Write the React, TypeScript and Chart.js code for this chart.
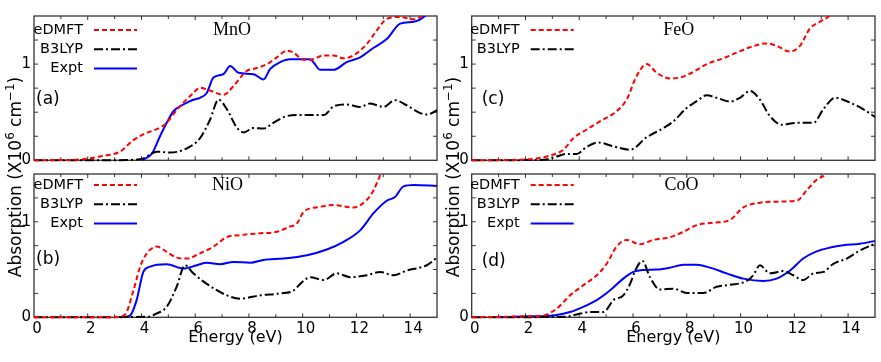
import React, { useEffect, useRef } from "react";
import { Chart, registerables } from "chart.js";

Chart.register(...registerables);

// ---------- data (energy in eV, absorption in 10^6 cm^-1) ----------
// MnO
const mnoEdmftE = [0, 1, 1.8, 2.45, 3.2, 3.7, 4.07, 4.69, 4.94, 5.19, 5.56, 5.9, 6.18, 6.6, 7.05, 7.42, 7.92, 8.17, 8.67, 9.04, 9.41, 9.66, 10.03, 10.28, 10.78, 11.15, 11.52, 11.89, 12.39, 12.76, 13.13, 13.63, 14.13, 14.5, 15];
const mnoEdmftV = [0, 0.003, 0.01, 0.04, 0.09, 0.21, 0.27, 0.34, 0.39, 0.48, 0.6, 0.69, 0.755, 0.72, 0.68, 0.77, 0.93, 0.95, 1.0, 1.07, 1.14, 1.12, 1.045, 1.045, 1.09, 1.09, 1.06, 1.09, 1.21, 1.35, 1.47, 1.49, 1.465, 1.52, 1.75];
const mnoB3lypE = [0, 2, 3.7, 4.07, 4.57, 5.07, 5.69, 6.18, 6.55, 6.87, 7.18, 7.55, 7.8, 8.17, 8.54, 8.91, 9.41, 9.91, 10.78, 11.15, 11.64, 12.14, 12.51, 13.01, 13.44, 13.88, 14.38, 14.62, 15];
const mnoB3lypV = [0, 0, 0.005, 0.02, 0.09, 0.08, 0.125, 0.23, 0.42, 0.63, 0.53, 0.34, 0.29, 0.335, 0.33, 0.39, 0.46, 0.47, 0.47, 0.56, 0.58, 0.555, 0.59, 0.555, 0.625, 0.57, 0.49, 0.475, 0.52];
const mnoExptE = [4.0, 4.38, 4.69, 4.94, 5.19, 5.56, 5.93, 6.18, 6.43, 6.68, 7.05, 7.3, 7.61, 8.17, 8.54, 8.79, 9.16, 9.53, 10.28, 10.4, 10.65, 11.15, 11.64, 12.14, 12.64, 13.13, 13.63, 14.13, 14.38, 14.62, 15];
const mnoExptV = [0, 0.066, 0.25, 0.39, 0.51, 0.58, 0.63, 0.65, 0.7, 0.86, 0.895, 0.98, 0.91, 0.895, 0.84, 0.95, 1.02, 1.05, 1.05, 1.02, 0.94, 0.94, 1.02, 1.07, 1.17, 1.26, 1.42, 1.44, 1.465, 1.52, 1.65];

// NiO
const nioEdmftE = [0, 3.0, 3.39, 3.7, 3.95, 4.2, 4.57, 4.94, 5.31, 5.69, 6.18, 6.68, 7.18, 7.67, 8.42, 9.04, 9.53, 9.78, 10.03, 10.65, 11.15, 11.89, 12.39, 12.64, 12.89, 13.2];
const nioEdmftV = [0, 0, 0.03, 0.28, 0.53, 0.67, 0.74, 0.685, 0.625, 0.615, 0.67, 0.74, 0.84, 0.86, 0.88, 0.895, 0.95, 0.98, 1.1, 1.157, 1.175, 1.15, 1.23, 1.33, 1.49, 1.65];
const nioB3lypE = [0, 4.2, 4.57, 4.94, 5.31, 5.62, 5.93, 6.43, 7.18, 7.67, 8.42, 9.16, 9.66, 9.91, 10.28, 10.78, 11.27, 11.77, 12.39, 12.89, 13.38, 13.88, 14.62, 15];
const nioB3lypV = [0, 0.005, 0.04, 0.11, 0.32, 0.545, 0.46, 0.35, 0.23, 0.195, 0.23, 0.25, 0.28, 0.35, 0.42, 0.39, 0.46, 0.42, 0.44, 0.475, 0.44, 0.49, 0.545, 0.625];
const nioExptE = [3.2, 3.33, 3.58, 3.82, 4.07, 4.32, 4.94, 5.56, 6.06, 6.43, 6.93, 7.42, 8.05, 8.54, 9.29, 10.16, 10.9, 11.52, 12.14, 12.64, 13.13, 13.44, 13.75, 14.13, 15];
const nioExptV = [0, 0.002, 0.02, 0.18, 0.475, 0.53, 0.555, 0.51, 0.545, 0.57, 0.555, 0.58, 0.57, 0.6, 0.615, 0.65, 0.71, 0.79, 0.91, 1.09, 1.22, 1.26, 1.37, 1.385, 1.375];

// FeO
const feoEdmftE = [0, 2.05, 2.79, 3.41, 3.78, 4.28, 4.77, 5.39, 5.76, 6.14, 6.51, 6.88, 7.38, 7.87, 8.37, 8.74, 9.36, 9.86, 10.35, 10.97, 11.34, 11.84, 12.21, 12.58, 12.95, 13.33, 13.6];
const feoEdmftV = [0, 0.01, 0.04, 0.11, 0.23, 0.32, 0.405, 0.51, 0.63, 0.88, 1.0, 0.91, 0.85, 0.87, 0.94, 1.0, 1.06, 1.12, 1.175, 1.215, 1.19, 1.13, 1.19, 1.37, 1.44, 1.51, 1.62];
const feoB3lypE = [0, 2.67, 3.16, 3.53, 3.9, 4.28, 4.71, 5.27, 5.89, 6.51, 7.13, 7.5, 8.0, 8.37, 8.74, 9.11, 9.61, 9.98, 10.35, 10.72, 11.09, 11.53, 12.09, 12.71, 13.08, 13.51, 14.07, 14.57, 15];
const feoB3lypV = [0, 0.005, 0.04, 0.066, 0.066, 0.14, 0.185, 0.145, 0.11, 0.24, 0.335, 0.405, 0.545, 0.615, 0.675, 0.65, 0.61, 0.65, 0.72, 0.63, 0.46, 0.37, 0.39, 0.39, 0.53, 0.65, 0.6, 0.53, 0.45];

// CoO
const cooEdmftE = [0, 2.0, 2.67, 3.16, 3.66, 4.15, 4.65, 5.02, 5.39, 5.76, 6.26, 6.76, 7.38, 7.87, 8.37, 8.99, 9.61, 10.1, 10.72, 11.22, 12.09, 12.46, 12.83, 13.2, 13.5];
const cooEdmftV = [0, 0.01, 0.02, 0.09, 0.23, 0.335, 0.44, 0.56, 0.74, 0.81, 0.765, 0.81, 0.84, 0.895, 0.965, 0.99, 1.02, 1.15, 1.2, 1.21, 1.22, 1.33, 1.44, 1.5, 1.6];
const cooB3lypE = [0, 3.5, 3.9, 4.4, 4.9, 5.27, 5.64, 5.89, 6.1, 6.35, 6.63, 7.0, 7.5, 8.0, 8.62, 9.11, 9.61, 10.23, 10.47, 10.72, 11.09, 11.59, 11.96, 12.33, 12.71, 13.08, 13.45, 13.95, 14.44, 15];
const cooB3lypV = [0, 0.005, 0.03, 0.055, 0.055, 0.18, 0.23, 0.35, 0.5, 0.59, 0.42, 0.29, 0.3, 0.255, 0.255, 0.32, 0.34, 0.38, 0.44, 0.545, 0.46, 0.485, 0.44, 0.39, 0.46, 0.475, 0.56, 0.615, 0.7, 0.77];
const cooExptE = [1.0, 2.17, 3.04, 3.66, 4.15, 4.65, 5.14, 5.64, 6.01, 6.38, 6.88, 7.38, 7.87, 8.37, 8.86, 9.48, 10.1, 10.85, 11.34, 11.84, 12.33, 12.83, 13.33, 13.82, 14.44, 15];
const cooExptV = [0, 0.01, 0.02, 0.055, 0.11, 0.18, 0.28, 0.405, 0.475, 0.495, 0.5, 0.52, 0.55, 0.55, 0.52, 0.46, 0.405, 0.38, 0.405, 0.49, 0.615, 0.69, 0.73, 0.755, 0.77, 0.8];

// ---------- labels / styles ----------
const SERIES_LABELS = ["eDMFT", "B3LYP", "Expt"];
const SERIES_COLORS = ["#ff0000", "#000000", "#0000ff"];
const SERIES_DASHES = [[5, 3], [9, 3, 2, 3], []];

const X_MIN = 0;
const X_MAX = 15;
const Y_MIN = 0;
const Y_MAX = 1.5;
const X_LABEL_STEP = 2;
const X_MINOR_STEP = 1;
const Y_MINOR_STEP = 0.25;
const Y_LABELS = [0, 1];
const X_TITLE = "Energy (eV)";

const SANS = "'DejaVu Sans', sans-serif";
const SERIF = "'Liberation Serif', 'DejaVu Serif', serif";

type Panel = {
  name: string;
  letter: string;
  series: number[][][];
  left: number;
  top: number;
  width: number;
  height: number;
  axisW: number;
  padTop: number;
  padRight: number;
  bottomH: number;
  showX: boolean;
  nameE: number;
  letterDx: number;
  letterV: number;
  legendDy: number;
  legendTextDx: number;
};

const PANELS: Panel[] = [
  {
    name: "MnO", letter: "(a)",
    series: [[mnoEdmftE, mnoEdmftV], [mnoB3lypE, mnoB3lypV], [mnoExptE, mnoExptV]],
    left: 0, top: 0, width: 440, height: 170, axisW: 34, padTop: 16, padRight: 3, bottomH: 9.7, showX: false,
    nameE: 7.37, letterDx: 2, letterV: 0.63, legendDy: 14, legendTextDx: 49,
  },
  {
    name: "NiO", letter: "(b)",
    series: [[nioEdmftE, nioEdmftV], [nioB3lypE, nioB3lypV], [nioExptE, nioExptV]],
    left: 0, top: 170, width: 440, height: 192, axisW: 34, padTop: 4, padRight: 3, bottomH: 44.7, showX: true,
    nameE: 7.2, letterDx: 2, letterV: 0.6, legendDy: 11, legendTextDx: 49,
  },
  {
    name: "FeO", letter: "(c)",
    series: [[feoEdmftE, feoEdmftV], [feoB3lypE, feoB3lypV]],
    left: 440, top: 0, width: 441, height: 170, axisW: 31.7, padTop: 16, padRight: 6, bottomH: 9.7, showX: false,
    nameE: 7.7, letterDx: 10, letterV: 0.63, legendDy: 14, legendTextDx: 48,
  },
  {
    name: "CoO", letter: "(d)",
    series: [[cooEdmftE, cooEdmftV], [cooB3lypE, cooB3lypV], [cooExptE, cooExptV]],
    left: 440, top: 170, width: 441, height: 192, axisW: 31.7, padTop: 4, padRight: 6, bottomH: 44.7, showX: true,
    nameE: 7.8, letterDx: 10, letterV: 0.58, legendDy: 11, legendTextDx: 48,
  },
];

const Y_TITLES = [
  { cx: 14.5, cy: 177 },
  { cx: 453, cy: 177 },
];

function makeDeco(p: Panel) {
  return {
    id: "deco",
    beforeDatasetsDraw(chart: any) {
      const { ctx, chartArea: a } = chart;
      const xs = chart.scales.x;
      const ys = chart.scales.y;
      ctx.save();
      ctx.strokeStyle = "#333";
      ctx.lineWidth = 1.3;
      ctx.strokeRect(a.left, a.top, a.right - a.left, a.bottom - a.top);
      ctx.beginPath();
      for (let e = X_MIN + X_MINOR_STEP; e < X_MAX; e += X_MINOR_STEP) {
        const px = xs.getPixelForValue(e);
        const len = e % X_LABEL_STEP === 0 ? 4 : 3;
        ctx.moveTo(px, a.bottom);
        ctx.lineTo(px, a.bottom - len);
        ctx.moveTo(px, a.top);
        ctx.lineTo(px, a.top + len);
      }
      for (let v = Y_MIN + Y_MINOR_STEP; v < Y_MAX - 1e-9; v += Y_MINOR_STEP) {
        const py = ys.getPixelForValue(v);
        ctx.moveTo(a.left, py);
        ctx.lineTo(a.left + 4, py);
        ctx.moveTo(a.right, py);
        ctx.lineTo(a.right - 4, py);
      }
      ctx.lineWidth = 1;
      ctx.stroke();
      ctx.restore();
    },
    afterDatasetsDraw(chart: any) {
      const { ctx, chartArea: a } = chart;
      const xs = chart.scales.x;
      const ys = chart.scales.y;
      ctx.save();
      // legend
      ctx.font = `14.5px ${SANS}`;
      ctx.textAlign = "right";
      ctx.textBaseline = "middle";
      chart.data.datasets.forEach((ds: any, i: number) => {
        const y = a.top + p.legendDy + i * 19.3;
        ctx.fillStyle = "#000";
        ctx.fillText(ds.label, a.left + p.legendTextDx, y);
        ctx.beginPath();
        ctx.strokeStyle = ds.borderColor;
        ctx.lineWidth = 2;
        ctx.setLineDash(ds.borderDash || []);
        ctx.moveTo(a.left + p.legendTextDx + 11, y);
        ctx.lineTo(a.left + p.legendTextDx + 54, y);
        ctx.stroke();
        ctx.setLineDash([]);
      });
      // compound name
      ctx.font = `18px ${SERIF}`;
      ctx.textAlign = "center";
      ctx.fillStyle = "#000";
      ctx.fillText(p.name, xs.getPixelForValue(p.nameE), a.top + p.legendDy);
      // panel letter
      ctx.font = `17px ${SANS}`;
      ctx.textAlign = "left";
      ctx.fillText(p.letter, a.left + p.letterDx, ys.getPixelForValue(p.letterV));
      ctx.restore();
    },
  };
}

function buildConfig(p: Panel): any {
  return {
    type: "line",
    data: {
      datasets: p.series.map(([e, v], k) => ({
        label: SERIES_LABELS[k],
        data: e.map((x, j) => ({ x, y: v[j] })),
        borderColor: SERIES_COLORS[k],
        backgroundColor: SERIES_COLORS[k],
        borderDash: SERIES_DASHES[k],
        borderWidth: 2,
        pointRadius: 0,
        fill: false,
        cubicInterpolationMode: "monotone",
        clip: { left: 2, top: 0, right: 2, bottom: 3 },
      })),
    },
    options: {
      responsive: false,
      animation: false,
      devicePixelRatio: 1,
      layout: { padding: { left: 0, top: p.padTop, right: p.padRight, bottom: 0 } },
      plugins: { legend: { display: false }, tooltip: { enabled: false } },
      scales: {
        x: {
          type: "linear",
          min: X_MIN,
          max: X_MAX,
          display: p.showX,
          grid: { display: false, drawTicks: false },
          border: { display: false },
          ticks: {
            stepSize: X_LABEL_STEP,
            includeBounds: false,
            autoSkip: false,
            maxRotation: 0,
            padding: 3,
            labelOffset: 3,
            color: "#000",
            font: { family: SANS, size: 15 },
          },
          title: {
            display: true,
            text: X_TITLE,
            color: "#000",
            font: { family: SANS, size: 16 },
            padding: { top: 0, bottom: 14.4 },
          },
          afterFit: (s: any) => {
            s.height = p.bottomH;
            s.paddingLeft = 0;
            s.paddingRight = 0;
          },
        },
        y: {
          type: "linear",
          min: Y_MIN,
          max: Y_MAX,
          grid: { display: false, drawTicks: false },
          border: { display: false },
          ticks: {
            stepSize: 0.5,
            padding: 3,
            color: "#000",
            font: { family: SANS, size: 15 },
            callback: (v: number) => (Y_LABELS.includes(v) ? String(v) : ""),
          },
          afterFit: (s: any) => {
            s.width = p.axisW;
            s.paddingTop = 0;
            s.paddingBottom = 0;
          },
        },
      },
    },
    plugins: [makeDeco(p)],
  };
}

export default function App() {
  const refs = useRef<(HTMLCanvasElement | null)[]>([]);

  useEffect(() => {
    const charts = PANELS.map((p, i) => new Chart(refs.current[i] as HTMLCanvasElement, buildConfig(p)));
    return () => charts.forEach((c) => c.destroy());
  }, []);

  return (
    <div style={{ position: "absolute", left: 0, top: 0, width: 881, height: 362, background: "#fff", overflow: "hidden" }}>
      {PANELS.map((p, i) => (
        <canvas
          key={p.name}
          ref={(el) => {
            refs.current[i] = el;
          }}
          width={p.width}
          height={p.height}
          style={{ position: "absolute", left: p.left, top: p.top, width: p.width, height: p.height }}
        />
      ))}
      {Y_TITLES.map((t, i) => (
        <div
          key={i}
          style={{
            position: "absolute",
            left: t.cx - 150,
            top: t.cy - 12,
            width: 300,
            height: 24,
            lineHeight: "24px",
            textAlign: "center",
            whiteSpace: "nowrap",
            transform: "rotate(-90deg)",
            fontFamily: SANS,
            fontSize: 17,
            color: "#000",
          }}
        >
          Absorption (X10
          <sup style={{ fontSize: "0.7em", verticalAlign: "0.55em", lineHeight: 0 }}>6</sup> cm
          <sup style={{ fontSize: "0.7em", verticalAlign: "0.55em", lineHeight: 0 }}>−1</sup>)
        </div>
      ))}
    </div>
  );
}
